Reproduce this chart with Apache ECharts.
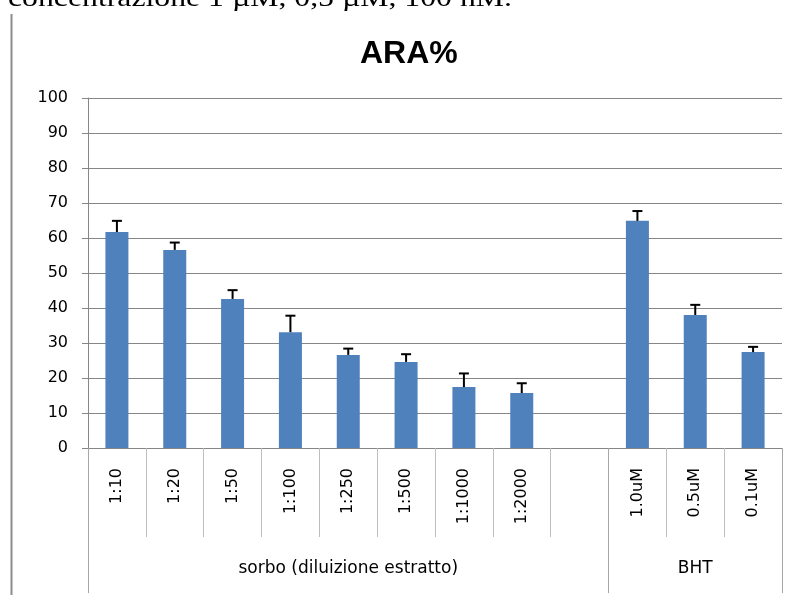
<!DOCTYPE html>
<html>
<head>
<meta charset="utf-8">
<script src="https://cdn.jsdelivr.net/npm/echarts@6/dist/echarts.min.js"></script>
<style>
html,body{margin:0;padding:0;background:#fff;}
#c{width:797px;height:595px;}
</style>
</head>
<body>
<div id="c"></div>
<script>
var categories = ['1:10','1:20','1:50','1:100','1:250','1:500','1:1000','1:2000','','1.0uM','0.5uM','0.1uM'];
var values = [61.7, 56.6, 42.6, 33.1, 26.6, 24.6, 17.4, 15.7, null, 64.9, 38.0, 27.4];
var errors = [3.2, 2.1, 2.5, 4.7, 1.8, 2.2, 3.9, 2.8, null, 2.8, 2.9, 1.5];
var groupLabels = ['', '', '', '', 'sorbo (diluizione estratto)', '', '', '', '', '', 'BHT', ''];
var groupStarts = [0, 9];
var yTicks = [0, 10, 20, 30, 40, 50, 60, 70, 80, 90, 100];

var chart = echarts.init(document.getElementById('c'), null, {renderer: 'canvas'});
var font = 'DejaVu Sans';
var barData = values.map(function (v) { return v === null ? '-' : v; });
var errData = [];
values.forEach(function (v, i) { if (v !== null) errData.push([i, v, errors[i]]); });

chart.setOption({
  animation: false,
  backgroundColor: '#fff',
  title: {
    text: 'ARA%', left: 355, top: 33,
    textStyle: {fontFamily: 'Liberation Sans', fontWeight: 'bold', fontSize: 32, color: '#000'}
  },
  graphic: [
    {type: 'line', shape: {x1: 11.5, y1: 14, x2: 11.5, y2: 595}, style: {stroke: '#8c8c8c', lineWidth: 2}},
    {type: 'text', x: 8, y: 12, scaleX: 1.27, scaleY: 1, style: {text: 'concentrazione 1 µM, 0,5 µM, 100 nM.', font: '25px "Liberation Serif"', fill: '#000', verticalAlign: 'bottom'}}
  ],
  grid: {left: 88, right: 15, top: 98, bottom: 147, containLabel: false},
  xAxis: [{
    type: 'category', data: categories, position: 'bottom',
    axisLine: {show: true, lineStyle: {color: '#868686', width: 1}},
    axisTick: {show: true, length: 89, lineStyle: {color: '#bdbdbd', width: 1}},
    axisLabel: {interval: 0, rotate: 90, margin: 20, fontFamily: font, fontSize: 16, color: '#000'},
    splitLine: {show: false}
  }, {
    type: 'category', data: groupLabels, position: 'bottom',
    axisLine: {show: false},
    axisTick: {show: true, length: 145, interval: function (i) { return groupStarts.indexOf(i) >= 0; }, lineStyle: {color: '#a6a6a6', width: 1}},
    axisLabel: {interval: 0, margin: 112, fontFamily: font, fontSize: 17, color: '#000'},
    splitLine: {show: false}
  }],
  yAxis: {
    type: 'value', min: 0, max: 100, interval: 10,
    axisLine: {show: true, lineStyle: {color: '#868686'}},
    axisTick: {show: true, length: 6, lineStyle: {color: '#868686'}},
    axisLabel: {margin: 20, fontFamily: font, fontSize: 16, color: '#000',
      formatter: function (v) { return yTicks.indexOf(v) >= 0 ? String(v) : ''; }},
    splitLine: {show: true, lineStyle: {color: '#868686', width: 1}}
  },
  series: [{
    type: 'bar', data: barData, barWidth: 23, xAxisIndex: 0,
    itemStyle: {color: '#4f81bd'}
  }, {
    type: 'custom', xAxisIndex: 0, data: errData, z: 5,
    renderItem: function (params, api) {
      var x = api.value(0), v = api.value(1), e = api.value(2);
      var p0 = api.coord([x, v]);
      var p1 = api.coord([x, v + e]);
      var hw = 5;
      return {
        type: 'group',
        children: [
          {type: 'line', shape: {x1: p0[0], y1: p0[1], x2: p1[0], y2: p1[1]}, style: {stroke: '#000', lineWidth: 2}},
          {type: 'line', shape: {x1: p1[0] - hw, y1: p1[1], x2: p1[0] + hw, y2: p1[1]}, style: {stroke: '#000', lineWidth: 2}}
        ]
      };
    }
  }]
});
</script>
</body>
</html>
